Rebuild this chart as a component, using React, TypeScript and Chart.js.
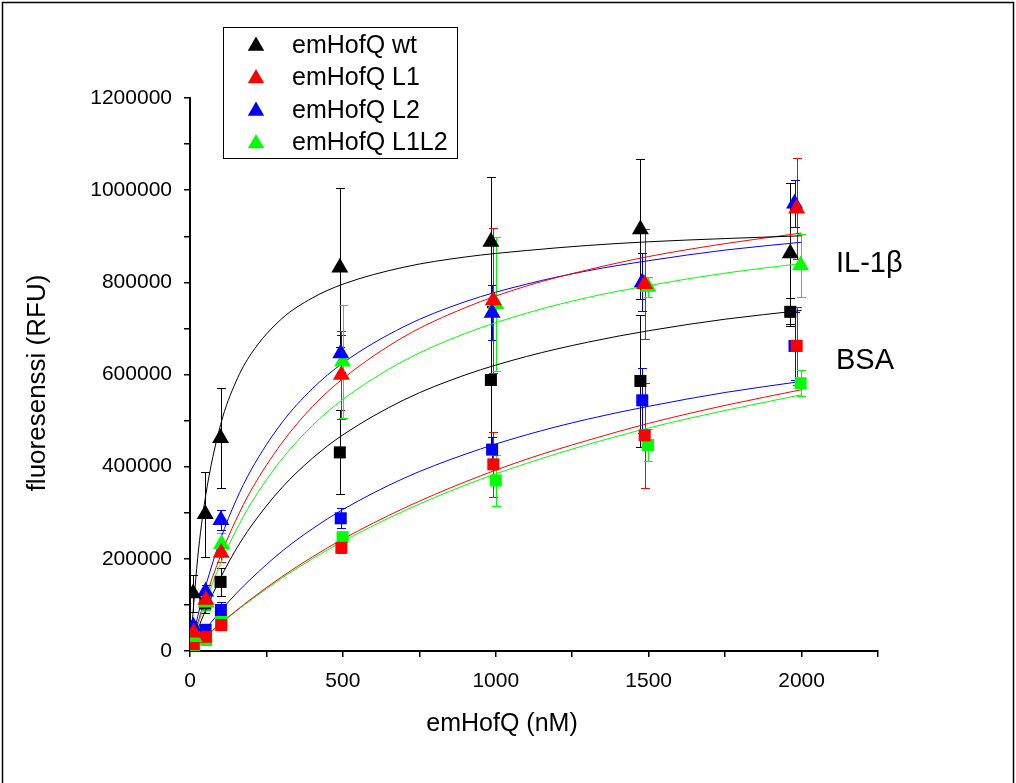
import React, { useEffect, useRef } from 'react';
import { Chart, registerables } from 'chart.js';

Chart.register(...registerables);

// ---------- data ----------
const seriesNames = ['emHofQ wt', 'emHofQ L1', 'emHofQ L2', 'emHofQ L1L2'];
const seriesColors = ['#000000', '#ff0000', '#0000ff', '#00ff00'];

const xWt = [10, 50, 100, 490, 984, 1473, 1963];
const xL1 = [12, 52, 102, 495, 992, 1487, 1984];
const xL2 = [11, 51, 101, 493, 988, 1479, 1977];
const xL1L2 = [13, 53, 103, 499, 1000, 1498, 1997];

// IL-1β (triangles)
const ilWt = [125000, 297000, 462000, 832000, 888000, 915000, 863000];
const ilWtErr = [40000, 92000, 108000, 173000, 141000, 152000, 153000];
const ilL1 = [40000, 111000, 213000, 599000, 761000, 796000, 960000];
const ilL1Err = [10000, 15000, 20000, 96000, 157000, 119000, 110000];
const ilL2 = [53000, 129000, 284000, 646000, 734000, 800000, 971000];
const ilL2Err = [10000, 15000, 22000, 40000, 60000, 63000, 50000];
const ilL1L2 = [30000, 105000, 232000, 628000, 753000, 790000, 837000];
const ilL1L2Err = [8000, 15000, 25000, 122000, 146000, 22000, 68000];

// BSA (squares)
const bsaWt = [39000, 103000, 150000, 431000, 588000, 586000, 736000];
const bsaWtErr = [15000, 20000, 30000, 91000, 160000, 143000, 30000];
const bsaL1 = [15000, 31000, 56000, 224000, 405000, 468000, 662000];
const bsaL1Err = [5000, 8000, 10000, 12000, 71000, 114000, 85000];
const bsaL2 = [30000, 46000, 89000, 288000, 437000, 544000, 662000];
const bsaL2Err = [8000, 10000, 18000, 22000, 28000, 71000, 74000];
const bsaL1L2 = [8000, 24000, 64000, 247000, 370000, 447000, 581000];
const bsaL1L2Err = [4000, 6000, 8000, 10000, 56000, 35000, 28000];

// fitted curves
const fitX = [0, 25, 50, 100, 150, 200, 300, 400, 500, 700, 900, 1100, 1300, 1500, 1750, 2000];
const fitIlWt = [0, 201000, 332000, 491000, 584000, 645000, 721000, 766000, 796000, 833000, 855000, 869000, 880000, 888000, 895000, 901000];
const fitIlL1 = [0, 60000, 114000, 207000, 284000, 349000, 451000, 530000, 591000, 682000, 745000, 792000, 827000, 856000, 884000, 907000];
const fitIlL2 = [0, 74000, 138000, 243000, 326000, 393000, 495000, 569000, 625000, 704000, 758000, 796000, 825000, 847000, 870000, 887000];
const fitIlL1L2 = [0, 55000, 105000, 190000, 261000, 321000, 416000, 489000, 546000, 630000, 689000, 733000, 767000, 793000, 820000, 841000];
const fitBsaWt = [0, 46000, 87000, 159000, 220000, 271000, 354000, 418000, 469000, 545000, 599000, 639000, 670000, 695000, 720000, 739000];
const fitBsaL1 = [0, 16000, 31000, 60000, 87000, 113000, 161000, 204000, 243000, 310000, 367000, 416000, 457000, 494000, 533000, 567000];
const fitBsaL2 = [0, 24000, 46000, 87000, 124000, 157000, 216000, 265000, 307000, 375000, 427000, 469000, 503000, 531000, 561000, 585000];
const fitBsaL1L2 = [0, 15000, 30000, 59000, 86000, 111000, 158000, 200000, 238000, 304000, 360000, 407000, 448000, 484000, 522000, 556000];

const xMax = 2250;
const yMax = 1200000;
const xStep = 250;
const yStep = 100000;
const xLabelStep = 500;
const yLabelStep = 200000;

const axisTitleX = 'emHofQ (nM)';
const axisTitleY = 'fluoresenssi (RFU)';
const labelIL = 'IL-1β';
const labelBSA = 'BSA';

const FONT = '"Liberation Sans", Arial, Helvetica, sans-serif';

const seriesX = [xWt, xL1, xL2, xL1L2];
const seriesIL = [ilWt, ilL1, ilL2, ilL1L2];
const seriesILErr = [ilWtErr, ilL1Err, ilL2Err, ilL1L2Err];
const seriesBSA = [bsaWt, bsaL1, bsaL2, bsaL1L2];
const seriesBSAErr = [bsaWtErr, bsaL1Err, bsaL2Err, bsaL1L2Err];
const seriesFitIL = [fitIlWt, fitIlL1, fitIlL2, fitIlL1L2];
const seriesFitBSA = [fitBsaWt, fitBsaL1, fitBsaL2, fitBsaL1L2];

const errorBarPlugin = {
  id: 'errorBars',
  beforeDatasetsDraw(chart: any) {
    const ctx = chart.ctx;
    const ys = chart.scales.y;
    chart.data.datasets.forEach((ds: any, di: number) => {
      if (!ds.errors) return;
      const meta = chart.getDatasetMeta(di);
      ctx.save();
      ctx.strokeStyle = ds.errColor;
      ctx.lineWidth = 1;
      meta.data.forEach((pt: any, i: number) => {
        const v = ds.data[i].y;
        const e = ds.errors[i];
        const x = Math.round(pt.x) + 0.5;
        const top = Math.round(ys.getPixelForValue(v + e)) + 0.5;
        const bot = Math.round(ys.getPixelForValue(Math.max(0, v - e))) + 0.5;
        ctx.beginPath();
        ctx.moveTo(x, top);
        ctx.lineTo(x, bot);
        ctx.moveTo(x - 4.5, top);
        ctx.lineTo(x + 4.5, top);
        ctx.moveTo(x - 4.5, bot);
        ctx.lineTo(x + 4.5, bot);
        ctx.stroke();
      });
      ctx.restore();
    });
  },
};

const decorPlugin = {
  id: 'decor',
  afterDraw(chart: any) {
    const ctx = chart.ctx;
    const area = chart.chartArea;
    ctx.save();
    // outer frame
    ctx.strokeStyle = '#000';
    ctx.lineWidth = 1.5;
    ctx.strokeRect(2.5, 2.5, chart.width - 5, chart.height + 20);

    ctx.fillStyle = '#000';
    // x axis title
    ctx.font = `25px ${FONT}`;
    ctx.textAlign = 'center';
    ctx.textBaseline = 'middle';
    ctx.fillText(axisTitleX, (area.left + area.right) / 2 - 32, 724);
    // y axis title
    ctx.save();
    ctx.translate(38, 383);
    ctx.rotate(-Math.PI / 2);
    ctx.font = `26px ${FONT}`;
    ctx.fillText(axisTitleY, 0, 0);
    ctx.restore();

    // series group labels
    ctx.font = `29px ${FONT}`;
    ctx.textAlign = 'left';
    ctx.textBaseline = 'alphabetic';
    ctx.fillText(labelIL, 836, 272);
    ctx.fillText(labelBSA, 836, 369);

    // legend
    ctx.lineWidth = 1;
    ctx.strokeRect(223.5, 27.5, 234, 131);
    ctx.font = `25px ${FONT}`;
    ctx.textBaseline = 'middle';
    seriesNames.forEach((name, i) => {
      const cy = 46 + i * 32.5;
      const cx = 256;
      const r = 9.5;
      ctx.fillStyle = seriesColors[i];
      ctx.beginPath();
      ctx.moveTo(cx, cy - r);
      ctx.lineTo(cx + 0.866 * r, cy + 0.5 * r);
      ctx.lineTo(cx - 0.866 * r, cy + 0.5 * r);
      ctx.closePath();
      ctx.fill();
      ctx.fillStyle = '#000';
      ctx.fillText(name, 292, cy);
    });
    ctx.restore();
  },
};

export default function App() {
  const ref = useRef<HTMLCanvasElement | null>(null);

  useEffect(() => {
    document.body.style.margin = '0';
    const canvas = ref.current;
    if (!canvas) return;

    const datasets: any[] = [];
    // fitted curves (drawn beneath)
    for (let s = 0; s < 4; s++) {
      [seriesFitIL[s], seriesFitBSA[s]].forEach((fit) => {
        datasets.push({
          data: fitX.map((x, i) => ({ x, y: fit[i] })),
          showLine: true,
          borderColor: seriesColors[s],
          borderWidth: 1,
          pointRadius: 0,
          cubicInterpolationMode: 'monotone',
          fill: false,
          order: 10,
        });
      });
    }
    // markers
    for (let s = 0; s < 4; s++) {
      datasets.push({
        data: seriesX[s].map((x, i) => ({ x, y: seriesBSA[s][i] })),
        errors: seriesBSAErr[s],
        errColor: seriesColors[s],
        showLine: false,
        pointStyle: 'rect',
        pointRadius: 8.5,
        pointBackgroundColor: seriesColors[s],
        pointBorderColor: seriesColors[s],
        pointBorderWidth: 0,
        order: 2,
      });
      datasets.push({
        data: seriesX[s].map((x, i) => ({ x, y: seriesIL[s][i] })),
        errors: seriesILErr[s],
        errColor: seriesColors[s],
        showLine: false,
        pointStyle: 'triangle',
        pointRadius: 9.8,
        pointBackgroundColor: seriesColors[s],
        pointBorderColor: seriesColors[s],
        pointBorderWidth: 0,
        order: 1,
      });
    }

    const chart = new Chart(canvas, {
      type: 'scatter',
      data: { datasets },
      options: {
        animation: false,
        responsive: false,
        devicePixelRatio: 1,
        layout: { padding: { left: 0, top: 98, right: 138, bottom: 0 } },
        plugins: {
          legend: { display: false },
          tooltip: { enabled: false },
        },
        scales: {
          x: {
            type: 'linear',
            min: 0,
            max: xMax,
            afterFit: (scale: any) => {
              scale.height = 132;
            },
            ticks: {
              stepSize: xStep,
              autoSkip: false,
              maxRotation: 0,
              padding: 12,
              color: '#000',
              font: { family: FONT, size: 21 },
              callback: (v: any) => (Number(v) % xLabelStep === 0 ? String(v) : ''),
            },
            grid: {
              drawOnChartArea: false,
              drawTicks: true,
              tickLength: 6,
              color: '#000',
              lineWidth: 1.5,
            },
            border: { color: '#000', width: 2 },
          },
          y: {
            type: 'linear',
            min: 0,
            max: yMax,
            afterFit: (scale: any) => {
              scale.width = 190;
            },
            ticks: {
              stepSize: yStep,
              autoSkip: false,
              padding: 12,
              color: '#000',
              font: { family: FONT, size: 21 },
              callback: (v: any) => (Number(v) % yLabelStep === 0 ? String(v) : ''),
            },
            grid: {
              drawOnChartArea: false,
              drawTicks: true,
              tickLength: 6,
              color: '#000',
              lineWidth: 1.5,
            },
            border: { color: '#000', width: 2 },
          },
        },
      },
      plugins: [errorBarPlugin, decorPlugin],
    } as any);

    return () => chart.destroy();
  }, []);

  return (
    <div style={{ position: 'absolute', left: 0, top: 0, width: 1016, height: 783, background: '#fff' }}>
      <canvas ref={ref} width={1016} height={783} style={{ display: 'block', width: 1016, height: 783 }} />
    </div>
  );
}
